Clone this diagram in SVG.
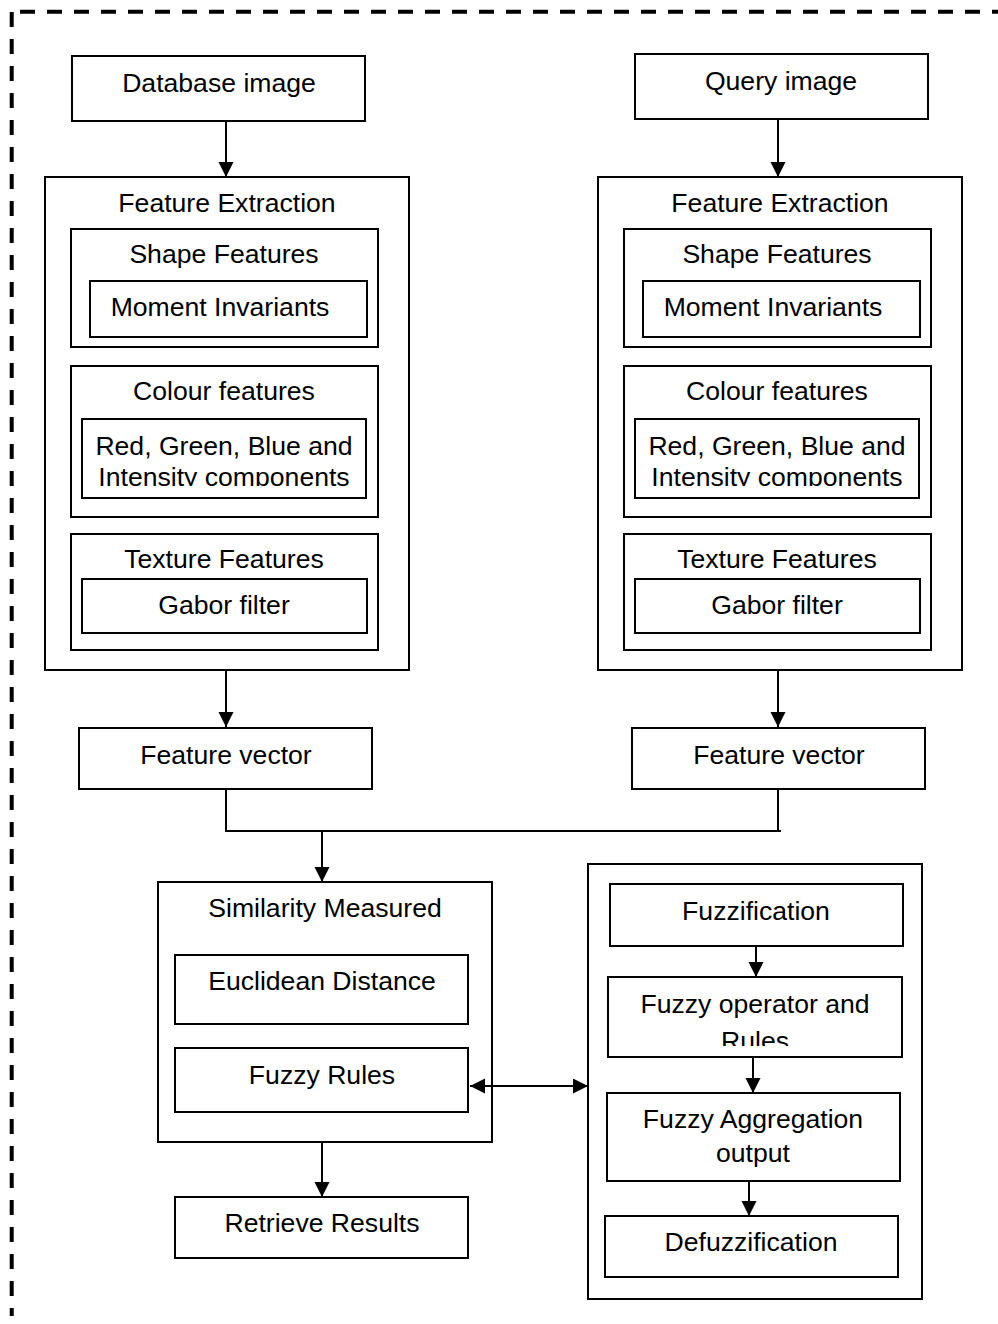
<svg xmlns="http://www.w3.org/2000/svg" width="998" height="1324" viewBox="0 0 998 1324">
<style>
.b{fill:#fff;stroke:#000;stroke-width:2}
.t{font-family:"Liberation Sans",Arial,sans-serif;font-size:26.6px;fill:#000;text-anchor:middle}
.c{fill:none;stroke:#000;stroke-width:2}
.a{marker-end:url(#ah)}
.d{fill:none;stroke:#000;stroke-width:4;stroke-dasharray:15 12}
</style>
<defs>
<marker id="ah" markerUnits="userSpaceOnUse" markerWidth="16" markerHeight="16" refX="15" refY="7.5" orient="auto">
<path d="M0,0 L15,7.5 L0,15 z" fill="#000"/>
</marker>
<marker id="as" markerUnits="userSpaceOnUse" markerWidth="16" markerHeight="16" refX="15" refY="7.5" orient="auto-start-reverse">
<path d="M0,0 L15,7.5 L0,15 z" fill="#000"/>
</marker>
<clipPath id="clipL"><rect x="82" y="419" width="284" height="67"/></clipPath>
<clipPath id="clipR"><rect x="635" y="419" width="284" height="67"/></clipPath>
<clipPath id="clipF"><rect x="608" y="977" width="294" height="69"/></clipPath>
</defs>
<rect width="998" height="1324" fill="#fff"/>
<line class="d" x1="20" y1="11.7" x2="998" y2="11.7"/>
<line class="d" x1="11.7" y1="12" x2="11.7" y2="1316"/>

<g id="db-image"><rect class="b" x="72" y="56" width="293" height="65"/><text class="t" x="219" y="92">Database image</text></g>
<g id="query-image"><rect class="b" x="635" y="54" width="293" height="65"/><text class="t" x="781" y="90">Query image</text></g>

<g id="fe-left">
<rect class="b" x="45" y="177" width="364" height="493"/>
<text class="t" x="227" y="212">Feature Extraction</text>
<g id="shape-left"><rect class="b" x="71" y="229" width="307" height="118"/><text class="t" x="224" y="263">Shape Features</text>
<rect class="b" x="90" y="281" width="277" height="56"/><text class="t" x="220" y="316">Moment Invariants</text></g>
<g id="colour-left"><rect class="b" x="71" y="366" width="307" height="151"/><text class="t" x="224" y="400">Colour features</text>
<rect class="b" x="82" y="419" width="284" height="79"/>
<g clip-path="url(#clipL)"><text class="t" x="224" y="455">Red, Green, Blue and</text><text class="t" x="224" y="485.5">Intensity components</text></g></g>
<g id="texture-left"><rect class="b" x="71" y="534" width="307" height="116"/><text class="t" x="224" y="568">Texture Features</text>
<rect class="b" x="82" y="579" width="285" height="54"/><text class="t" x="224" y="614">Gabor filter</text></g>
</g>

<g id="fe-right">
<rect class="b" x="598" y="177" width="364" height="493"/>
<text class="t" x="780" y="212">Feature Extraction</text>
<g id="shape-right"><rect class="b" x="624" y="229" width="307" height="118"/><text class="t" x="777" y="263">Shape Features</text>
<rect class="b" x="643" y="281" width="277" height="56"/><text class="t" x="773" y="316">Moment Invariants</text></g>
<g id="colour-right"><rect class="b" x="624" y="366" width="307" height="151"/><text class="t" x="777" y="400">Colour features</text>
<rect class="b" x="635" y="419" width="284" height="79"/>
<g clip-path="url(#clipR)"><text class="t" x="777" y="455">Red, Green, Blue and</text><text class="t" x="777" y="485.5">Intensity components</text></g></g>
<g id="texture-right"><rect class="b" x="624" y="534" width="307" height="116"/><text class="t" x="777" y="568">Texture Features</text>
<rect class="b" x="635" y="579" width="285" height="54"/><text class="t" x="777" y="614">Gabor filter</text></g>
</g>

<g id="fv-left"><rect class="b" x="79" y="728" width="293" height="61"/><text class="t" x="226" y="764">Feature vector</text></g>
<g id="fv-right"><rect class="b" x="632" y="728" width="293" height="61"/><text class="t" x="779" y="764">Feature vector</text></g>

<g id="similarity">
<rect class="b" x="158" y="882" width="334" height="260"/>
<text class="t" x="325" y="917">Similarity Measured</text>
<g id="euclid"><rect class="b" x="175" y="955" width="293" height="69"/><text class="t" x="322" y="990">Euclidean Distance</text></g>
<g id="fuzzy-rules"><rect class="b" x="175" y="1048" width="293" height="64"/><text class="t" x="322" y="1084">Fuzzy Rules</text></g>
</g>
<g id="retrieve"><rect class="b" x="175" y="1197" width="293" height="61"/><text class="t" x="322" y="1232">Retrieve Results</text></g>

<g id="fuzzy-system">
<rect class="b" x="588" y="864" width="334" height="435"/>
<g id="fuzzification"><rect class="b" x="610" y="884" width="293" height="62"/><text class="t" x="756" y="920">Fuzzification</text></g>
<g id="fuzzy-op"><rect class="b" x="608" y="977" width="294" height="80"/>
<g clip-path="url(#clipF)"><text class="t" x="755" y="1013">Fuzzy operator and</text><text class="t" x="755" y="1050">Rules</text></g></g>
<g id="fuzzy-agg"><rect class="b" x="607" y="1093" width="293" height="88"/><text class="t" x="753" y="1128">Fuzzy Aggregation</text><text class="t" x="753" y="1162">output</text></g>
<g id="defuzz"><rect class="b" x="605" y="1216" width="293" height="61"/><text class="t" x="751" y="1251">Defuzzification</text></g>
</g>

<g id="connectors">
<line class="c a" x1="226" y1="122" x2="226" y2="177"/>
<line class="c a" x1="778" y1="120" x2="778" y2="177"/>
<line class="c a" x1="226" y1="671" x2="226" y2="727"/>
<line class="c a" x1="778" y1="671" x2="778" y2="727"/>
<polyline class="c" points="226,790 226,831 781,831"/>
<line class="c" x1="778" y1="790" x2="778" y2="831"/>
<line class="c a" x1="322" y1="831" x2="322" y2="882"/>
<line class="c a" x1="322" y1="1143" x2="322" y2="1197"/>
<line class="c" x1="470" y1="1086" x2="588" y2="1086" marker-start="url(#as)" marker-end="url(#ah)"/>
<line class="c a" x1="756" y1="947" x2="756" y2="977"/>
<line class="c a" x1="753" y1="1058" x2="753" y2="1093"/>
<line class="c a" x1="749" y1="1182" x2="749" y2="1216"/>
</g>
</svg>
